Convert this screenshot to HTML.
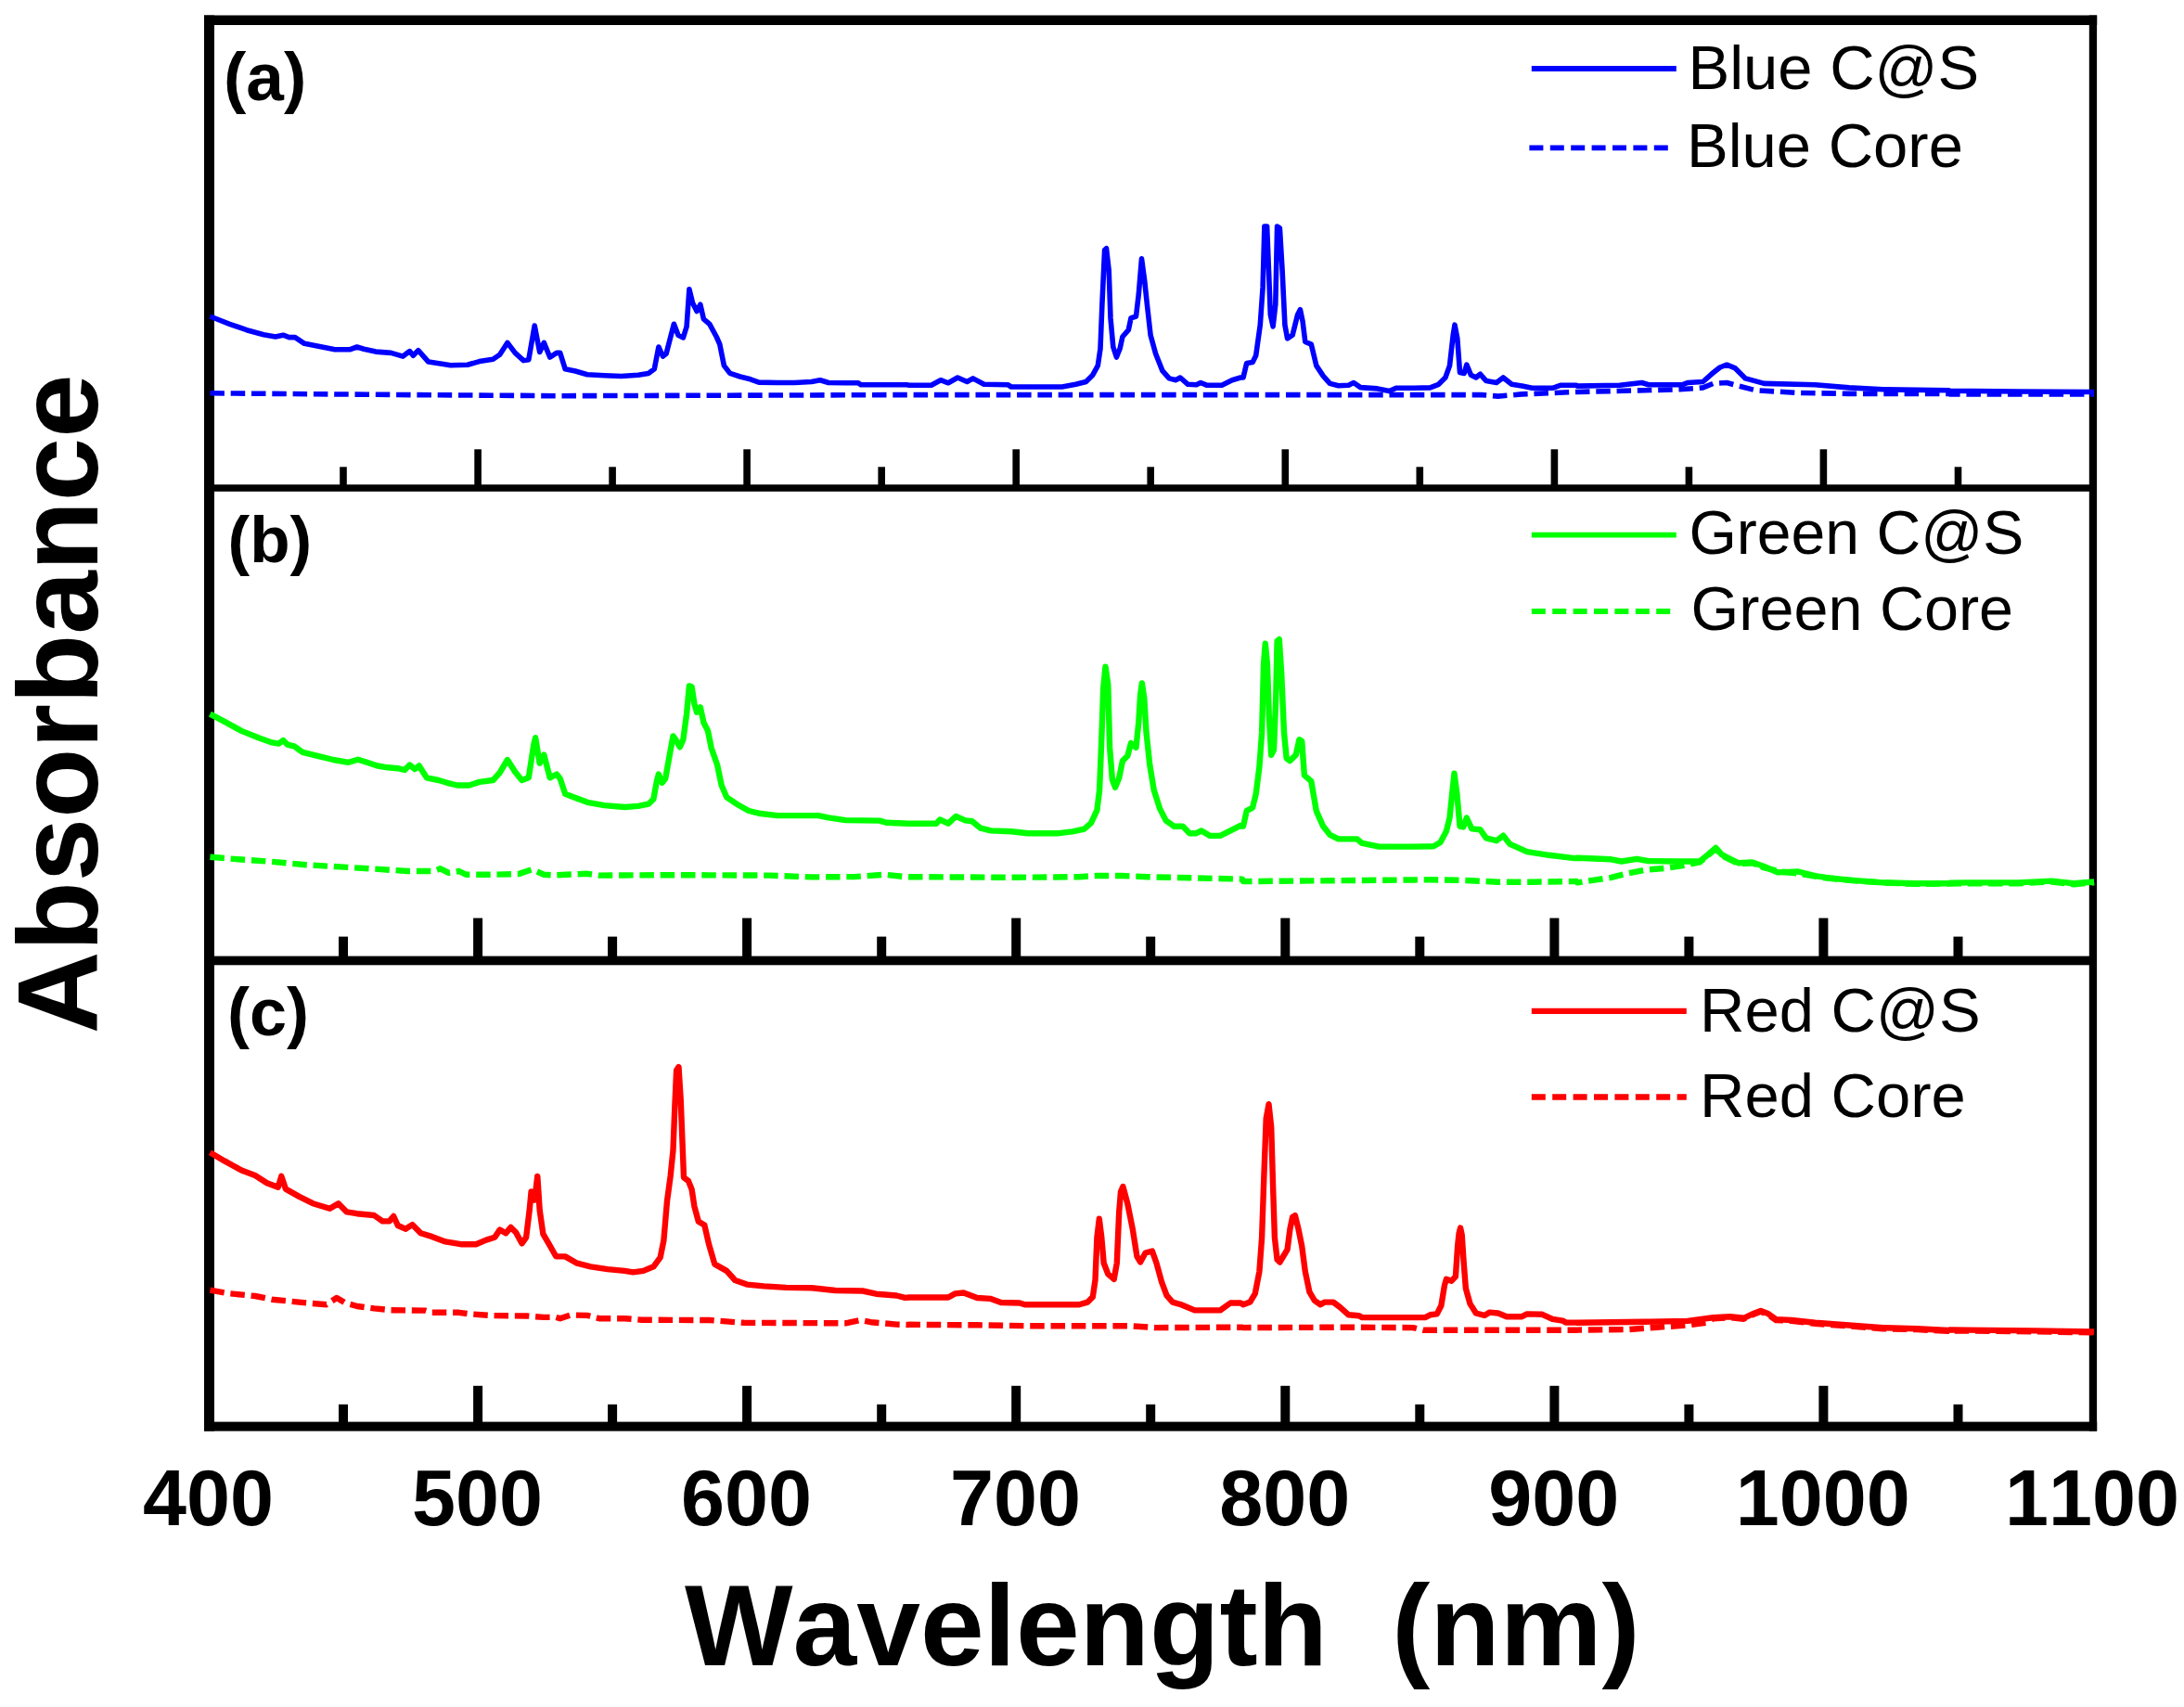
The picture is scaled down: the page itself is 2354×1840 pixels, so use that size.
<!DOCTYPE html>
<html lang="en"><head><meta charset="utf-8"><title>Absorbance spectra</title>
<style>html,body{margin:0;padding:0;background:#fff}svg{display:block}text{font-family:"Liberation Sans",Arial,Helvetica,sans-serif;fill:#000;font-kerning:none}.b{font-weight:700}.cv{fill:none;stroke-linejoin:round;stroke-linecap:butt}</style></head><body>
<svg width="2354" height="1840" viewBox="0 0 2354 1840">
<rect width="2354" height="1840" fill="#fff"/>
<g fill="#000">
<rect x="220" y="16.5" width="11" height="1526"/>
<rect x="220" y="16.5" width="2040.2" height="10.5"/>
<rect x="2251.8" y="16.5" width="8.3" height="1526"/>
<rect x="220" y="1532.6" width="2040.2" height="10"/>
<rect x="220" y="522.3" width="2040" height="7.5"/>
<rect x="220" y="1030.6" width="2040" height="9.7"/>
<rect x="366.2" y="503.3" width="7.6" height="22.7"/>
<rect x="365.0" y="1009.6" width="10" height="25.4"/>
<rect x="365.0" y="1513.8" width="10" height="23.2"/>
<rect x="511.3" y="484.3" width="7.6" height="41.7"/>
<rect x="510.1" y="989.6" width="10" height="45.4"/>
<rect x="510.1" y="1493.8" width="10" height="43.2"/>
<rect x="656.3" y="503.3" width="7.6" height="22.7"/>
<rect x="655.1" y="1009.6" width="10" height="25.4"/>
<rect x="655.1" y="1513.8" width="10" height="23.2"/>
<rect x="801.3" y="484.3" width="7.6" height="41.7"/>
<rect x="800.1" y="989.6" width="10" height="45.4"/>
<rect x="800.1" y="1493.8" width="10" height="43.2"/>
<rect x="946.4" y="503.3" width="7.6" height="22.7"/>
<rect x="945.2" y="1009.6" width="10" height="25.4"/>
<rect x="945.2" y="1513.8" width="10" height="23.2"/>
<rect x="1091.4" y="484.3" width="7.6" height="41.7"/>
<rect x="1090.2" y="989.6" width="10" height="45.4"/>
<rect x="1090.2" y="1493.8" width="10" height="43.2"/>
<rect x="1236.4" y="503.3" width="7.6" height="22.7"/>
<rect x="1235.2" y="1009.6" width="10" height="25.4"/>
<rect x="1235.2" y="1513.8" width="10" height="23.2"/>
<rect x="1381.5" y="484.3" width="7.6" height="41.7"/>
<rect x="1380.3" y="989.6" width="10" height="45.4"/>
<rect x="1380.3" y="1493.8" width="10" height="43.2"/>
<rect x="1526.5" y="503.3" width="7.6" height="22.7"/>
<rect x="1525.3" y="1009.6" width="10" height="25.4"/>
<rect x="1525.3" y="1513.8" width="10" height="23.2"/>
<rect x="1671.6" y="484.3" width="7.6" height="41.7"/>
<rect x="1670.4" y="989.6" width="10" height="45.4"/>
<rect x="1670.4" y="1493.8" width="10" height="43.2"/>
<rect x="1816.6" y="503.3" width="7.6" height="22.7"/>
<rect x="1815.4" y="1009.6" width="10" height="25.4"/>
<rect x="1815.4" y="1513.8" width="10" height="23.2"/>
<rect x="1961.6" y="484.3" width="7.6" height="41.7"/>
<rect x="1960.4" y="989.6" width="10" height="45.4"/>
<rect x="1960.4" y="1493.8" width="10" height="43.2"/>
<rect x="2106.7" y="503.3" width="7.6" height="22.7"/>
<rect x="2105.5" y="1009.6" width="10" height="25.4"/>
<rect x="2105.5" y="1513.8" width="10" height="23.2"/>
</g>
<path class="cv" d="M226.4,423.8 L403.2,425.3 L600.0,426.7 L783.2,426.2 L980.0,425.6 L1339.0,425.6 L1340.0,425.6 L1596.4,425.6 L1614.7,427.1 L1640.4,424.9 L1699.0,422.5 L1700.0,422.5 L1773.3,420.7 L1809.9,419.8 L1835.5,417.9 L1846.5,413.4 L1861.2,412.5 L1874.0,416.1 L1892.3,420.7 L1938.1,423.4 L1993.0,424.4 L2100.0,424.4 L2101.5,424.9 L2257.1,424.9" stroke="#0000ff" stroke-width="5.6" stroke-dasharray="15.5 6.8"/>
<path class="cv" d="M226.4,341.0 L247.5,349.3 L265.8,355.7 L284.1,360.8 L296.9,363.0 L305.2,361.2 L311.6,363.6 L318.0,363.6 L328.1,370.3 L344.5,373.6 L361.0,376.7 L377.5,376.7 L384.8,374.0 L392.2,376.2 L405.0,379.1 L421.5,380.4 L434.3,384.1 L441.6,378.6 L445.3,383.2 L450.8,377.7 L461.8,390.1 L476.4,392.3 L485.6,393.8 L503.9,393.2 L516.7,389.6 L531.4,387.2 L538.7,382.2 L546.9,369.4 L555.2,380.4 L564.3,388.6 L569.8,387.7 L576.2,351.1 L581.7,379.5 L586.3,369.4 L592.7,385.0 L597.3,382.2 L600.0,380.4 L603.7,380.4 L609.2,397.8 L620.1,400.0 L633.0,403.7 L651.3,404.8 L669.6,405.5 L687.9,404.2 L698.9,402.4 L705.3,397.8 L709.9,374.0 L714.5,384.1 L718.1,381.3 L726.4,349.3 L731.0,361.2 L736.4,363.9 L740.1,352.0 L742.9,311.7 L746.5,326.4 L751.1,335.5 L754.8,328.2 L758.4,343.8 L764.8,349.3 L772.2,363.0 L775.8,371.2 L780.4,394.1 L786.8,402.4 L797.8,406.0 L808.8,408.8 L817.9,412.1 L838.1,412.5 L856.4,412.5 L874.7,411.5 L883.9,409.7 L893.0,412.5 L911.4,412.8 L925.1,412.8 L927.8,414.7 L948.0,414.7 L977.3,414.7 L980.0,415.2 L1003.8,415.2 L1013.9,409.7 L1022.1,412.8 L1032.2,407.0 L1042.3,411.5 L1048.7,407.9 L1060.6,414.3 L1086.2,414.7 L1089.9,417.0 L1144.8,417.0 L1159.5,414.3 L1170.5,411.5 L1177.8,404.2 L1183.3,394.1 L1186.0,375.8 L1187.9,328.2 L1190.6,269.6 L1192.5,267.8 L1195.2,291.6 L1197.0,342.9 L1199.8,374.0 L1203.4,385.0 L1207.1,375.8 L1209.9,363.0 L1216.3,355.7 L1219.0,342.9 L1224.5,341.0 L1227.3,317.2 L1230.5,278.8 L1233.7,302.6 L1236.4,328.2 L1240.1,361.2 L1245.6,381.3 L1252.9,399.6 L1260.2,407.9 L1267.5,409.7 L1272.1,407.0 L1280.4,414.3 L1289.5,414.7 L1294.1,412.5 L1300.5,415.2 L1317.0,415.2 L1328.0,409.7 L1337.1,407.0 L1340.0,407.0 L1343.7,391.4 L1350.1,390.5 L1353.7,383.2 L1358.3,350.2 L1361.1,309.9 L1362.9,244.0 L1365.6,244.0 L1367.5,291.6 L1369.3,339.2 L1372.1,352.0 L1374.8,328.2 L1376.6,244.0 L1379.4,245.8 L1382.1,291.6 L1384.9,350.2 L1387.6,364.8 L1393.1,361.2 L1398.6,339.2 L1401.4,333.7 L1404.1,346.5 L1406.8,368.5 L1413.3,371.2 L1418.8,394.1 L1426.1,405.1 L1433.4,413.4 L1442.6,415.8 L1453.6,415.2 L1459.0,412.5 L1466.4,417.6 L1484.7,418.9 L1497.5,421.6 L1504.8,418.3 L1523.2,418.3 L1541.5,417.9 L1550.6,414.3 L1557.9,407.0 L1562.5,394.1 L1566.2,361.2 L1568.0,350.2 L1570.8,364.8 L1573.5,401.5 L1578.1,402.4 L1580.8,393.2 L1585.4,404.2 L1590.9,407.0 L1595.5,403.3 L1601.9,410.6 L1612.9,412.5 L1620.2,407.0 L1629.4,414.3 L1640.4,416.1 L1651.4,418.3 L1673.3,418.3 L1682.5,415.2 L1699.0,415.2 L1700.0,416.1 L1745.8,415.2 L1769.6,412.5 L1776.9,414.7 L1813.6,414.7 L1819.0,412.5 L1835.5,411.5 L1844.7,403.3 L1853.8,396.0 L1861.2,393.2 L1870.3,396.9 L1881.3,407.9 L1901.5,413.4 L1956.4,414.7 L1993.0,417.9 L2029.7,419.8 L2100.0,420.7 L2101.5,421.2 L2174.7,422.0 L2257.1,422.5" stroke="#0000ff" stroke-width="5.6"/>
<path class="cv" d="M226.4,923.8 L256.6,926.2 L293.3,928.9 L329.9,932.2 L366.5,934.4 L403.2,936.6 L439.8,939.0 L467.3,939.0 L474.6,936.3 L483.7,940.8 L494.7,939.0 L502.1,942.7 L531.4,942.7 L558.8,942.1 L573.5,937.2 L586.3,942.7 L599.1,943.6 L600.0,943.2 L633.0,941.8 L645.8,943.6 L728.2,943.2 L828.9,943.6 L874.7,945.4 L920.5,945.1 L953.5,942.7 L975.5,945.1 L980.0,945.2 L1089.9,945.8 L1163.2,945.2 L1181.5,944.0 L1208.9,944.0 L1236.4,945.2 L1339.0,947.6 L1340.0,950.1 L1541.5,948.3 L1578.1,948.9 L1614.7,950.7 L1651.4,950.7 L1699.0,950.0 L1700.0,951.4 L1718.3,948.6 L1736.6,945.9 L1754.9,941.3 L1773.3,937.7 L1795.2,935.8 L1813.6,933.1 L1831.9,929.4 L1841.0,922.1 L1849.3,914.8 L1855.7,922.1 L1864.8,926.7 L1874.0,931.2 L1888.6,930.3 L1899.6,934.0 L1900.0,934.9 L1918.3,939.5 L1936.6,941.3 L1964.1,945.9 L1991.6,948.6 L2028.2,951.4 L2064.8,952.9 L2119.8,952.3 L2174.7,952.3 L2211.4,950.5 L2235.2,953.2 L2257.1,951.4" stroke="#00ff00" stroke-width="6.4" stroke-dasharray="15.5 6.8"/>
<path class="cv" d="M226.4,769.6 L242.0,777.8 L260.3,787.9 L278.6,795.2 L293.3,800.4 L300.6,801.6 L305.2,798.0 L309.7,802.6 L317.1,804.4 L326.2,810.8 L344.5,815.4 L359.2,819.0 L375.7,821.8 L385.8,818.7 L394.0,821.2 L406.8,825.5 L417.8,827.3 L428.8,828.2 L436.1,830.0 L441.6,824.5 L447.1,829.1 L451.7,825.5 L459.9,838.3 L472.7,841.0 L481.9,843.8 L492.9,846.5 L505.7,846.5 L516.7,842.9 L531.4,841.0 L538.7,832.8 L546.9,819.0 L555.2,831.9 L562.5,841.0 L569.8,838.3 L575.3,802.6 L577.1,795.2 L581.7,822.7 L586.3,813.6 L592.7,838.3 L598.2,835.5 L600.0,834.6 L603.7,839.2 L609.2,855.7 L618.3,859.3 L633.0,864.8 L651.3,868.1 L673.3,870.0 L687.9,868.9 L698.9,866.7 L704.4,861.2 L708.1,841.0 L709.9,834.6 L713.6,843.8 L717.2,839.2 L721.8,813.6 L725.5,793.4 L728.2,797.1 L732.8,805.3 L736.4,797.1 L740.1,769.6 L742.9,739.4 L745.6,740.3 L748.4,758.6 L751.1,767.8 L754.8,762.3 L758.4,778.8 L763.0,787.9 L766.7,806.2 L773.1,824.5 L777.7,846.5 L783.2,859.3 L794.1,866.7 L807.0,874.0 L817.9,876.7 L838.1,879.1 L882.1,879.1 L893.0,881.3 L911.4,884.1 L948.0,884.6 L955.3,886.8 L979.1,887.7 L980.0,887.7 L1009.3,887.7 L1013.0,883.5 L1022.1,887.7 L1030.4,879.9 L1040.4,884.4 L1047.8,885.3 L1056.9,892.7 L1067.9,895.4 L1089.9,896.3 L1108.2,898.2 L1141.2,898.2 L1155.8,896.3 L1168.6,893.6 L1176.0,887.2 L1182.4,873.4 L1185.1,851.5 L1187.3,796.5 L1189.2,741.6 L1191.5,718.7 L1194.3,737.9 L1196.1,805.7 L1198.9,840.5 L1202.0,848.7 L1206.2,838.6 L1209.9,820.3 L1215.3,814.8 L1219.0,801.1 L1224.5,805.7 L1227.3,778.2 L1229.1,748.9 L1230.9,736.4 L1233.3,752.6 L1235.5,789.2 L1239.2,824.0 L1243.7,851.5 L1250.1,871.6 L1256.6,884.4 L1265.7,890.8 L1274.9,890.8 L1282.2,898.2 L1289.5,898.2 L1295.0,895.4 L1304.2,900.9 L1315.2,900.9 L1326.2,895.4 L1337.1,889.9 L1340.0,890.6 L1343.7,874.1 L1350.1,870.5 L1353.7,855.8 L1357.4,826.5 L1360.1,789.9 L1362.0,716.6 L1363.8,693.7 L1366.0,716.6 L1367.8,771.6 L1370.2,813.7 L1373.0,808.2 L1375.2,753.3 L1376.6,691.0 L1378.8,689.2 L1381.2,725.8 L1384.0,789.9 L1386.7,817.4 L1390.4,820.1 L1396.8,813.7 L1400.4,797.2 L1403.2,799.0 L1405.9,835.7 L1413.3,842.1 L1418.8,874.1 L1426.1,890.6 L1433.4,899.8 L1442.6,904.4 L1462.7,904.4 L1468.2,908.9 L1486.5,912.6 L1523.2,912.6 L1545.1,912.2 L1552.5,908.0 L1558.9,896.1 L1562.5,881.5 L1565.3,854.0 L1567.5,833.8 L1570.4,855.8 L1573.5,890.6 L1577.2,891.5 L1580.8,881.5 L1586.3,893.4 L1595.5,894.3 L1601.9,903.4 L1612.9,906.2 L1620.2,900.7 L1627.5,909.9 L1645.9,918.1 L1669.7,921.8 L1697.1,925.1 L1700.0,924.8 L1736.6,926.3 L1747.6,928.5 L1764.1,925.8 L1776.9,928.1 L1809.9,928.5 L1831.9,928.5 L1841.0,921.2 L1849.3,913.8 L1855.7,921.2 L1864.8,925.8 L1874.0,930.3 L1888.6,929.4 L1901.5,934.0 L1916.1,940.4 L1938.1,939.5 L1956.4,944.1 L1974.7,946.8 L1993.0,948.6 L2029.7,951.4 L2066.3,952.3 L2100.0,952.3 L2101.5,951.8 L2119.8,951.4 L2174.7,951.4 L2211.4,949.6 L2235.2,952.3 L2257.1,950.5" stroke="#00ff00" stroke-width="6.4"/>
<path class="cv" d="M226.4,1390.6 L247.5,1394.3 L274.9,1397.0 L293.3,1400.7 L311.6,1402.5 L329.9,1404.4 L351.9,1406.2 L362.9,1398.9 L372.0,1404.4 L384.8,1408.0 L403.2,1410.4 L421.5,1412.2 L458.1,1412.6 L465.4,1414.8 L494.7,1414.8 L505.7,1416.3 L531.4,1418.1 L568.0,1418.5 L586.3,1419.9 L599.1,1419.9 L603.7,1421.2 L614.7,1417.5 L633.0,1417.9 L645.8,1421.2 L673.3,1421.2 L691.6,1422.7 L764.8,1423.0 L801.5,1425.8 L911.4,1426.3 L927.8,1423.0 L938.8,1425.2 L966.3,1427.6 L979.1,1428.0 L980.0,1427.8 L1053.3,1428.3 L1108.2,1429.2 L1218.1,1429.2 L1245.6,1431.1 L1339.0,1430.7 L1340.0,1431.1 L1449.9,1430.7 L1523.2,1431.1 L1534.1,1433.8 L1699.0,1433.8 L1700.0,1433.6 L1754.9,1433.1 L1791.6,1430.3 L1819.0,1428.5 L1839.2,1425.8 L1846.5,1421.2 L1864.8,1420.3 L1879.5,1421.7 L1890.5,1416.6 L1897.8,1413.8 L1905.1,1416.6 L1914.3,1423.0 L1930.8,1423.9 L1956.4,1426.7 L1993.0,1429.4 L2029.7,1432.2 L2066.3,1433.1 L2100.0,1434.9 L2101.5,1434.4 L2119.8,1434.5 L2193.0,1435.3 L2257.1,1436.4" stroke="#ff0000" stroke-width="6.4" stroke-dasharray="15.5 6.8"/>
<path class="cv" d="M226.4,1242.3 L242.0,1251.4 L260.3,1261.5 L274.9,1267.0 L287.8,1275.2 L299.7,1279.8 L303.3,1267.9 L307.9,1281.6 L322.6,1289.9 L337.2,1297.2 L355.5,1302.7 L364.7,1297.2 L373.8,1306.4 L384.8,1308.2 L403.2,1310.0 L412.3,1316.4 L419.6,1316.4 L424.2,1311.0 L428.8,1321.0 L437.0,1324.7 L444.4,1320.1 L453.5,1329.3 L465.4,1332.9 L480.1,1338.4 L496.6,1341.2 L513.0,1341.2 L524.0,1336.6 L533.2,1333.8 L538.7,1325.6 L545.1,1329.3 L550.6,1322.9 L556.1,1328.4 L562.5,1340.3 L567.1,1333.8 L570.7,1304.5 L572.6,1284.4 L576.2,1293.6 L579.3,1267.9 L581.7,1304.5 L585.4,1330.2 L591.8,1341.2 L599.1,1354.0 L600.0,1354.4 L609.2,1354.4 L622.0,1361.7 L636.6,1365.3 L654.9,1368.1 L673.3,1369.9 L682.4,1371.4 L693.4,1369.9 L704.4,1365.3 L711.7,1355.3 L715.4,1337.0 L719.0,1294.8 L722.7,1267.4 L725.5,1239.9 L727.3,1194.1 L729.1,1153.8 L731.5,1150.1 L733.7,1184.9 L735.5,1230.7 L737.0,1269.2 L741.9,1272.9 L745.6,1282.0 L748.4,1300.3 L752.9,1316.8 L759.3,1320.5 L763.9,1340.6 L770.3,1362.6 L783.2,1369.9 L792.3,1380.0 L805.1,1384.6 L823.4,1386.4 L847.3,1387.9 L874.7,1388.2 L900.4,1391.0 L929.7,1391.5 L944.3,1394.7 L966.3,1396.5 L975.5,1398.9 L980.0,1398.5 L1022.1,1398.5 L1029.5,1394.4 L1038.6,1393.5 L1053.3,1399.0 L1067.9,1399.9 L1078.9,1404.0 L1099.0,1404.5 L1104.5,1406.3 L1163.2,1406.3 L1172.3,1403.6 L1177.8,1398.1 L1180.5,1379.8 L1182.4,1334.0 L1184.8,1313.8 L1187.3,1334.0 L1189.7,1361.5 L1194.3,1373.4 L1200.7,1378.9 L1203.8,1361.5 L1206.2,1306.5 L1208.0,1284.5 L1210.4,1279.0 L1215.3,1297.4 L1220.8,1324.8 L1225.4,1354.1 L1229.1,1360.5 L1234.6,1350.5 L1241.9,1348.6 L1246.5,1361.5 L1252.0,1381.6 L1257.5,1396.3 L1263.9,1403.6 L1273.0,1406.3 L1287.7,1412.4 L1315.2,1412.4 L1326.2,1404.5 L1337.1,1404.5 L1340.0,1406.3 L1347.3,1403.6 L1352.8,1394.4 L1357.4,1370.6 L1360.1,1334.0 L1362.3,1269.9 L1364.7,1205.8 L1367.5,1190.2 L1370.2,1214.9 L1372.1,1279.0 L1373.9,1334.0 L1376.6,1357.8 L1379.4,1360.5 L1387.6,1346.8 L1390.4,1324.8 L1393.1,1312.0 L1395.9,1310.2 L1399.5,1324.8 L1403.2,1343.2 L1406.8,1370.6 L1411.4,1392.6 L1416.9,1401.8 L1423.3,1406.3 L1427.9,1403.6 L1437.1,1403.6 L1444.4,1409.1 L1453.6,1417.3 L1464.5,1418.2 L1468.2,1420.1 L1536.0,1420.1 L1541.5,1417.3 L1548.8,1416.4 L1553.4,1407.3 L1557.0,1385.3 L1558.9,1378.9 L1564.4,1380.7 L1568.9,1376.1 L1571.1,1343.2 L1572.6,1329.4 L1574.1,1323.6 L1575.7,1331.2 L1577.7,1361.5 L1579.9,1388.9 L1584.5,1405.4 L1590.9,1415.5 L1600.1,1417.9 L1605.6,1414.6 L1614.7,1415.5 L1623.9,1419.2 L1640.4,1419.2 L1645.9,1416.4 L1662.3,1416.8 L1673.3,1421.9 L1684.3,1423.7 L1688.0,1425.6 L1699.0,1425.6 L1700.0,1425.8 L1773.3,1424.8 L1819.0,1423.9 L1831.9,1422.1 L1846.5,1420.3 L1864.8,1419.3 L1879.5,1420.8 L1890.5,1415.7 L1897.8,1412.9 L1905.1,1415.7 L1914.3,1422.1 L1930.8,1423.0 L1956.4,1425.8 L1993.0,1428.5 L2029.7,1431.2 L2066.3,1432.2 L2100.0,1434.0 L2101.5,1433.4 L2119.8,1433.6 L2193.0,1434.4 L2257.1,1435.5" stroke="#ff0000" stroke-width="6.4"/>
<text class="b" x="241" y="108" font-size="73">(a)</text>
<text class="b" x="245.5" y="606.3" font-size="71">(b)</text>
<text class="b" x="245" y="1116.3" font-size="72">(c)</text>
<line x1="1650.8" y1="74" x2="1806.8" y2="74" stroke="#0000ff" stroke-width="5.8"/>
<line x1="1648.4" y1="159.3" x2="1798.6" y2="159.3" stroke="#0000ff" stroke-width="5.8" stroke-dasharray="15 7.4"/>
<text x="1819.5" y="95.9" font-size="67">Blue C@S</text>
<text x="1818" y="180.3" font-size="67">Blue Core</text>
<line x1="1650.8" y1="576.6" x2="1806.8" y2="576.6" stroke="#00ff00" stroke-width="5.8"/>
<line x1="1650.8" y1="659" x2="1801" y2="659" stroke="#00ff00" stroke-width="5.8" stroke-dasharray="15 7.4"/>
<text x="1820.4" y="597.3" font-size="66.1">Green C@S</text>
<text x="1822.6" y="679.3" font-size="66.5">Green Core</text>
<line x1="1650.8" y1="1089.9" x2="1817.8" y2="1089.9" stroke="#ff0000" stroke-width="6.3"/>
<line x1="1650.8" y1="1182.5" x2="1817.8" y2="1182.5" stroke="#ff0000" stroke-width="6.3" stroke-dasharray="15 7.4"/>
<text x="1832" y="1112.4" font-size="67">Red C@S</text>
<text x="1832" y="1203.6" font-size="67">Red Core</text>
<text class="b" x="224.4" y="1644.3" font-size="84.5" text-anchor="middle">400</text>
<text class="b" x="514.5" y="1644.3" font-size="84.5" text-anchor="middle">500</text>
<text class="b" x="804.5" y="1644.3" font-size="84.5" text-anchor="middle">600</text>
<text class="b" x="1094.6" y="1644.3" font-size="84.5" text-anchor="middle">700</text>
<text class="b" x="1384.7" y="1644.3" font-size="84.5" text-anchor="middle">800</text>
<text class="b" x="1674.8" y="1644.3" font-size="84.5" text-anchor="middle">900</text>
<text class="b" x="1964.8" y="1644.3" font-size="84.5" text-anchor="middle">1000</text>
<text class="b" x="2254.9" y="1644.3" font-size="84.5" text-anchor="middle">1100</text>
<text class="b" x="738" y="1794.5" font-size="123.5">Wavelength</text>
<text class="b" x="1500.2" y="1794.5" font-size="123.5">(nm)</text>
<text class="b" transform="translate(105.4,1114.2) rotate(-90)" font-size="123">Absorbance</text>
</svg></body></html>
